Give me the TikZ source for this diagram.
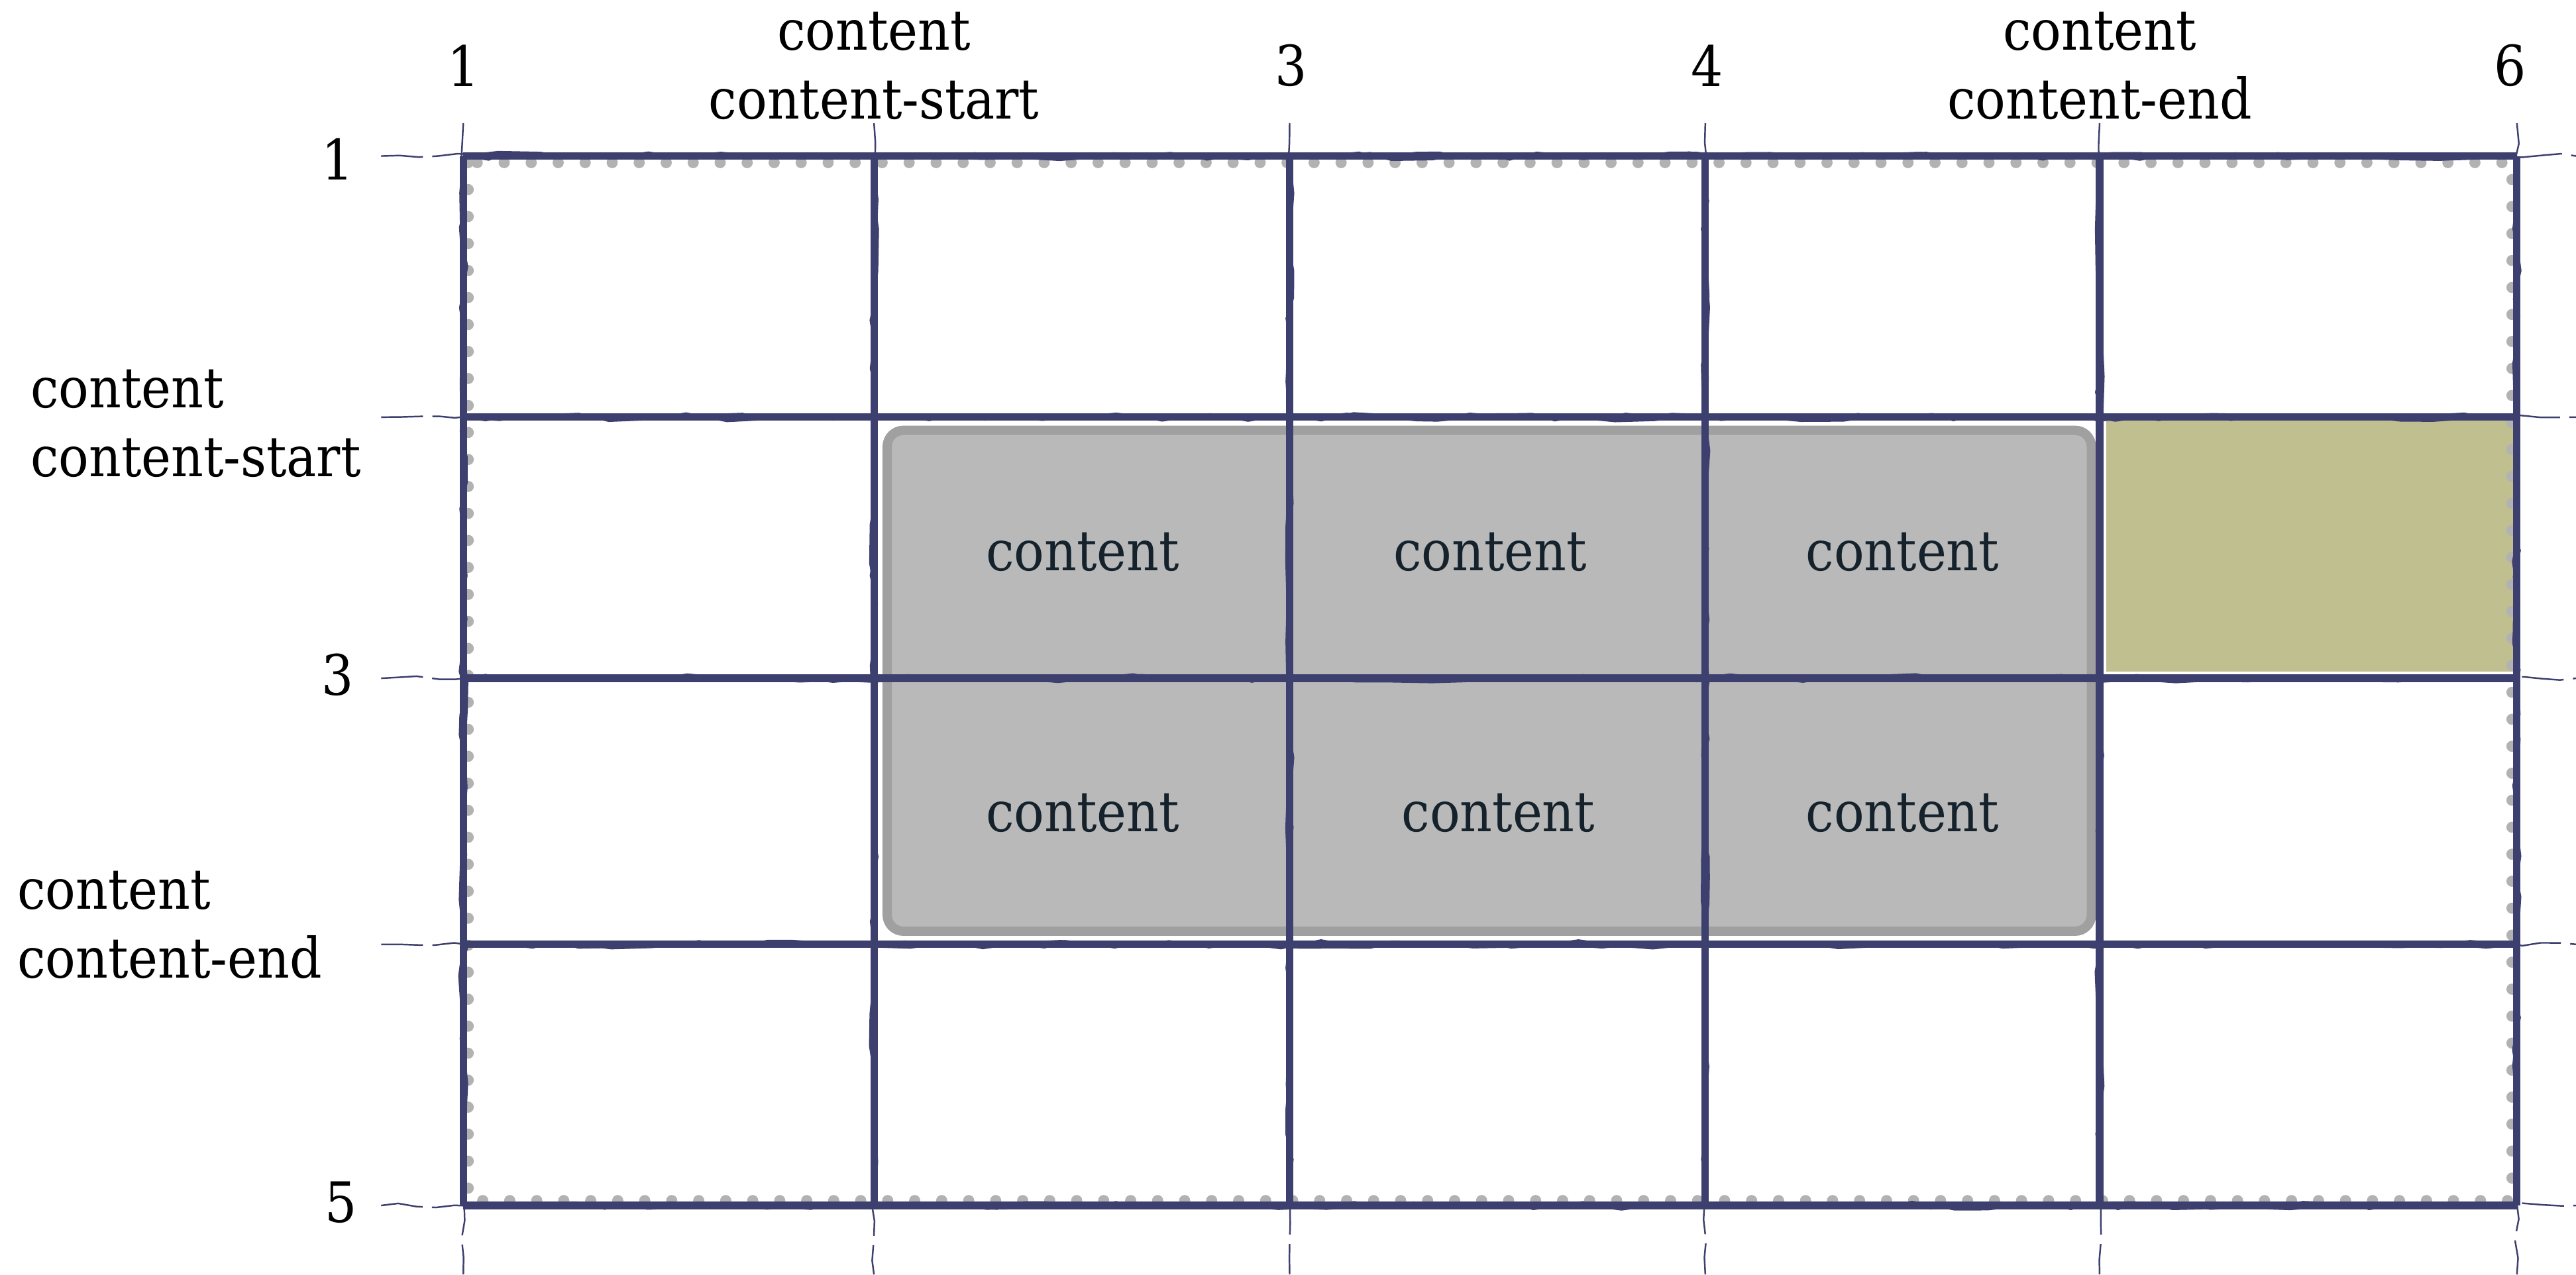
\documentclass[tikz,border=0pt]{standalone}
\usepackage{fontspec}
\setmainfont{DejaVu Serif Condensed}
\usepackage{xcolor}
\usetikzlibrary{decorations.pathmorphing}
\definecolor{gridc}{HTML}{3D3F6E}
\definecolor{areafill}{HTML}{B9B9B9}
\definecolor{areaedge}{HTML}{A0A0A0}
\definecolor{olivefill}{HTML}{C0BF8F}
\definecolor{cellc}{HTML}{15222B}
\begin{document}
\begin{tikzpicture}[x=0.0124cm, y=-0.0124cm,
        every node/.style={font=\fontsize{12}{14.8}\selectfont, inner sep=0pt},
        lbl/.style={align=center, text=black},
        rowlbl/.style={align=left, anchor=west, text=black},
        rownum/.style={anchor=east, text=black},
        cell/.style={text=cellc},
        gridline/.style={draw=gridc, line width=1.6pt,
            preaction={draw=gridc, line width=0.4pt, decorate, decoration={random steps, segment length=5pt, amplitude=0.8pt}},
            postaction={draw=gridc, line width=0.4pt, decorate, decoration={random steps, segment length=8pt, amplitude=0.9pt}}},
        gridtail/.style={draw=gridc, line width=0.35pt, dash pattern=on 9pt off 2pt, decorate, decoration={random steps, segment length=4pt, amplitude=0.5pt}},
        dots/.style={draw=gray!60, line width=2.4pt, line cap=round, dash pattern=on 0pt off 5.8pt}]
        \pgfmathsetseed{7}
        \useasboundingbox (0,0) rectangle (1568,776);

        \fill[olivefill] (1282,255) rectangle (1531,409);
        \draw[fill=areafill, draw=areaedge, line width=2pt, rounded corners=3.5pt] (540,262) rectangle (1273,567);
        \draw[dots] (285,99) rectangle (1529,731);

        \draw[gridtail] (232,95) -- (1568,95);
        \draw[gridtail] (232,254) -- (1568,254);
        \draw[gridtail] (232,413) -- (1568,413);
        \draw[gridtail] (232,575) -- (1568,575);
        \draw[gridtail] (232,734) -- (1568,734);
        \draw[gridtail] (282,75) -- (282,776);
        \draw[gridtail] (532,75) -- (532,776);
        \draw[gridtail] (785,75) -- (785,776);
        \draw[gridtail] (1038,75) -- (1038,776);
        \draw[gridtail] (1278,75) -- (1278,776);
        \draw[gridtail] (1532,75) -- (1532,776);

        \draw[gridline] (282,95) -- (1532,95);
        \draw[gridline] (282,254) -- (1532,254);
        \draw[gridline] (282,413) -- (1532,413);
        \draw[gridline] (282,575) -- (1532,575);
        \draw[gridline] (282,734) -- (1532,734);
        \draw[gridline] (282,95) -- (282,734);
        \draw[gridline] (532,95) -- (532,734);
        \draw[gridline] (785,95) -- (785,734);
        \draw[gridline] (1038,95) -- (1038,734);
        \draw[gridline] (1278,95) -- (1278,734);
        \draw[gridline] (1532,95) -- (1532,734);

        \node[lbl] (col1) at (282,40) {1};
        \node[lbl] (col2) at (532,40) {content\\content-start};
        \node[lbl] (col3) at (786,40) {3};
        \node[lbl] (col4) at (1039,40) {4};
        \node[lbl] (col5) at (1278,40) {content\\content-end};
        \node[lbl] (col6) at (1528,40) {6};

        \node[rownum] (row1) at (216,97) {1};
        \node[rowlbl] (row2) at (18,258) {content\\content-start};
        \node[rownum] (row3) at (216,411) {3};
        \node[rowlbl] (row4) at (10,563) {content\\content-end};
        \node[rownum] (row5) at (218,732) {5};

        \node[cell] (c21) at (659,336) {content};
        \node[cell] (c22) at (907,336) {content};
        \node[cell] (c23) at (1158,336) {content};
        \node[cell] (c31) at (659,495) {content};
        \node[cell] (c32) at (912,495) {content};
        \node[cell] (c33) at (1158,495) {content};
    \end{tikzpicture}
\end{document}
